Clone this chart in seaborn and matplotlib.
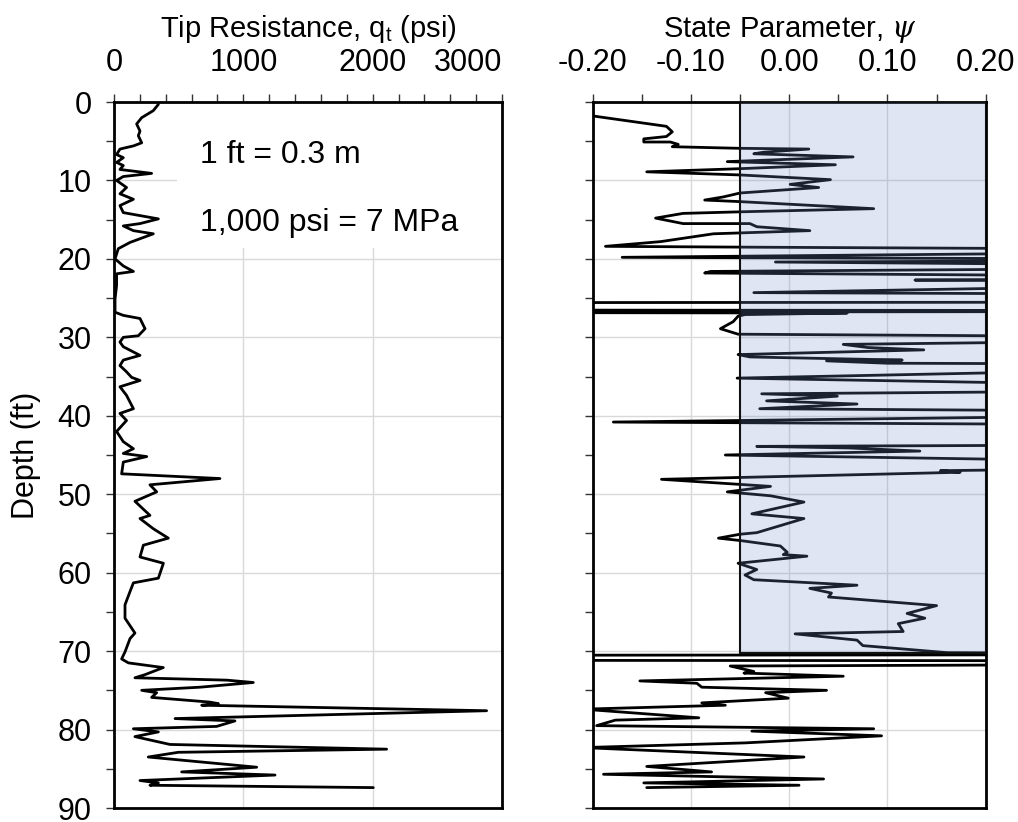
import numpy as np
import pandas as pd
import seaborn as sns
import matplotlib
matplotlib.use("Agg")
import matplotlib.pyplot as plt
from matplotlib.patches import Rectangle
from matplotlib.ticker import MultipleLocator, FixedLocator, FixedFormatter

# ---------------- data ----------------
qt_depth = [0.3, 1.1, 2.0, 2.8, 3.7, 4.3, 5.2, 5.6, 5.8, 6.0, 6.7, 7.1, 7.7, 8.1, 8.6, 9.1, 9.5,
            10.0, 10.9, 11.7, 12.4, 13.2, 14.1, 14.9, 15.5, 15.8, 16.4, 16.8, 17.9, 18.7, 20.0,
            20.9, 21.6, 21.9, 23.4, 25.1, 26.8, 27.2, 27.6, 28.9, 29.8, 30.0, 30.6, 31.2, 32.3,
            32.9, 33.6, 34.4, 35.1, 35.5, 36.3, 37.4, 39.1, 39.7, 40.6, 42.0, 43.3, 44.2, 44.8,
            45.2, 45.9, 47.4, 48.0, 48.8, 49.7, 50.9, 52.7, 53.1, 54.4, 55.6, 56.5, 58.0, 58.8,
            60.7, 61.3, 62.4, 64.1, 65.8, 67.7, 68.4, 70.1, 71.0, 71.5, 72.1, 73.0, 73.4, 73.7,
            74.0, 74.6, 75.0, 75.3, 75.9, 76.5, 76.7, 76.9, 77.6, 78.6, 78.9, 79.6, 79.9, 80.3,
            80.9, 81.9, 82.5, 82.9, 83.5, 84.8, 85.4, 85.8, 86.5, 86.8, 87.1, 87.4]
qt_psi = [343, 304, 214, 175, 201, 188, 214, 150, 97, 46, 20, 72, 20, 72, 46, 291, 72,
          20, 97, 46, 150, 46, 72, 343, 201, 72, 150, 304, 124, 33, 8,
          72, 150, 20, 20, 8, 8, 72, 201, 240, 188, 72, 46, 72, 201,
          72, 46, 97, 136, 201, 46, 97, 150, 46, 97, 20, 72, 150, 72,
          253, 72, 59, 819, 278, 330, 162, 278, 201, 304, 420, 227, 201, 382,
          343, 150, 124, 85, 85, 162, 124, 85, 59, 111, 381, 240, 162, 871,
          1077, 665, 214, 330, 291, 742, 807, 678, 2881, 472, 935, 793, 150, 343,
          162, 433, 2108, 497, 265, 1103, 523, 1245, 201, 343, 278, 2005]

# state parameter (values beyond the +/-0.20 frame are estimated off-scale excursions)
psi_depth = [1.6, 3.0, 3.1, 3.8, 4.4, 4.7, 5.1, 5.1, 5.4, 5.7, 5.9, 6.0, 6.4, 6.6, 7.0, 7.6,
             8.0, 8.5, 8.9, 9.3, 9.9, 10.5, 10.9, 11.6, 12.1, 12.5, 12.7, 13.6, 14.0, 14.2,
             14.8, 15.5, 15.5, 15.9, 16.4, 16.7, 16.8, 17.8, 18.4, 18.5, 18.9, 19.8, 20.1,
             20.4, 21.0, 21.6, 21.8, 22.4, 22.7, 22.9, 24.3, 24.6, 25.5, 25.6, 26.5, 26.6,
             26.7, 26.8, 26.9, 27.1, 27.3, 28.0, 28.9, 29.6, 30.1, 30.9, 31.3, 31.6, 32.2,
             32.5, 32.9, 33.0, 33.3, 33.5, 35.2, 36.6, 37.2, 37.5, 38.1, 38.5, 39.1, 39.6,
             40.8, 41.3, 43.6, 43.9, 44.1, 44.5, 45.0, 46.3, 47.0, 47.2, 48.1, 49.0, 49.7,
             50.2, 51.0, 52.5, 53.1, 54.9, 55.1, 55.6, 55.9, 56.6, 57.4, 57.7, 57.9, 58.8,
             59.6, 60.3, 60.9, 61.6, 62.0, 62.6, 63.1, 64.2, 65.2, 65.8, 66.5, 67.5, 67.8,
             68.6, 69.3, 70.2, 70.45, 70.55, 71.15, 71.25, 71.6, 71.9, 72.6, 72.8, 73.2,
             73.8, 74.1, 74.6, 75.0, 75.3, 76.0, 76.6, 76.9, 77.4, 78.5, 78.8, 79.5, 79.9,
             80.2, 80.8, 81.7, 82.3, 83.5, 84.7, 85.4, 85.7, 86.3, 86.8, 87.1, 87.4]
psi_value = [-0.21, -0.131, -0.125, -0.119, -0.125, -0.148, -0.148, -0.121, -0.113, -0.119,
             -0.052, 0.020, -0.026, -0.036, 0.065, -0.063, 0.047, -0.050, -0.145, -0.050,
             0.042, 0.001, 0.030, -0.050, -0.067, -0.086, -0.050, 0.086, -0.050, -0.108,
             -0.136, -0.108, -0.040, -0.033, 0.021, -0.050, -0.077, -0.131, -0.187, -0.050,
             0.6, -0.170, 0.6, -0.014, 0.6, -0.080, -0.086, 0.6, 0.128, 0.6, -0.036, 0.6,
             0.6, -0.6, -0.6, 0.6, 0.6, -0.6, 0.059, -0.045, -0.052, -0.057, -0.070, -0.052,
             0.6, 0.055, 0.080, 0.137, -0.052, -0.040, 0.115, 0.038, 0.100, 0.6, -0.053, 0.6,
             -0.028, 0.049, -0.023, 0.069, -0.030, 0.6, -0.179, 0.6, 0.6, -0.033, 0.060,
             0.133, -0.065, 0.6, 0.154, 0.174, -0.130, -0.019, -0.063, -0.019, 0.015, -0.038,
             0.015, -0.033, -0.050, -0.072, -0.050, -0.009, -0.002, -0.006, 0.018, -0.052,
             -0.033, -0.045, -0.036, 0.069, 0.021, 0.043, 0.040, 0.150, 0.120, 0.138, 0.111,
             0.116, 0.006, 0.069, 0.075, 0.161, 0.6, -0.6, -0.6, 0.6, 0.6, -0.060, -0.036,
             -0.046, 0.055, -0.152, -0.094, -0.089, 0.038, -0.024, -0.001, -0.089, -0.065,
             -0.21, -0.092, -0.177, -0.196, 0.086, -0.038, 0.094, -0.045, -0.21, 0.015,
             -0.145, -0.079, -0.189, 0.035, -0.148, 0.010, -0.145]

qt_ticks = [0, 1000, 2000, 3000]
psi_ticks = [-0.20, -0.10, 0.00, 0.10, 0.20]
psi_tick_labels = ["-0.20", "-0.10", "0.00", "0.10", "0.20"]
depth_ticks = [0, 10, 20, 30, 40, 50, 60, 70, 80, 90]
zone_left, zone_right, zone_bottom = -0.05, 0.20, 70.3

# ---------------- style ----------------
sns.set_theme(style="white")
plt.rcParams["font.family"] = ["Liberation Sans", "DejaVu Sans"]
plt.rcParams["mathtext.fontset"] = "custom"
plt.rcParams["mathtext.rm"] = "Liberation Sans"
plt.rcParams["mathtext.it"] = "DejaVu Serif:italic"
plt.rcParams["axes.unicode_minus"] = False
plt.rcParams["text.color"] = "black"
plt.rcParams["axes.labelcolor"] = "black"

FS_TICK = 22
FS_TITLE = 21
fig = plt.figure(figsize=(10.18, 8.22), dpi=100)
axL = fig.add_axes([114 / 1018, 1 - 808 / 822, 388 / 1018, 706 / 822])
axR = fig.add_axes([592.7 / 1018, 1 - 808 / 822, 393 / 1018, 706 / 822])

grid_c = "#d9d9d9"

def style_axis(ax):
    for s in ax.spines.values():
        s.set_color("black")
        s.set_linewidth(2)
    ax.xaxis.tick_top()
    ax.xaxis.set_label_position("top")
    ax.set_ylim(90, 0)
    ax.yaxis.set_major_locator(FixedLocator(depth_ticks))
    ax.yaxis.set_minor_locator(MultipleLocator(5))
    ax.tick_params(axis="both", which="both", direction="out", length=6, width=1,
                   color="#333333", labelsize=FS_TICK, labelcolor="black")
    ax.tick_params(axis="x", which="both", top=True, bottom=False, pad=11)
    ax.tick_params(axis="y", which="both", left=True, right=False, pad=10)
    ax.grid(True, which="major", color=grid_c, linewidth=1)
    ax.set_axisbelow(True)

# Left panel: tip resistance
sns.lineplot(x=qt_psi, y=qt_depth, sort=False, estimator=None, color="black",
             linewidth=2.0, ax=axL, zorder=3)
axL.set_xlim(0, 3000)
style_axis(axL)
axL.xaxis.set_major_locator(FixedLocator(qt_ticks))
axL.xaxis.set_minor_locator(MultipleLocator(200))
axL.set_xlabel("Tip Resistance, q$_\\mathrm{t}$ (psi)", fontsize=FS_TITLE, labelpad=8)
axL.set_ylabel("Depth (ft)", fontsize=22, labelpad=12)
fig.canvas.draw()
lbls = axL.get_xticklabels()
lbls[-1].set_horizontalalignment("right")
axL.add_patch(Rectangle((0.162, 0.793), 0.84, 0.21, transform=axL.transAxes,
                        facecolor="white", edgecolor="none", zorder=2))
axL.text(0.222, 0.925, "1 ft = 0.3 m", transform=axL.transAxes, fontsize=23,
         va="center", ha="left", zorder=4)
axL.text(0.222, 0.828, "1,000 psi = 7 MPa", transform=axL.transAxes, fontsize=23,
         va="center", ha="left", zorder=4)

# Right panel: state parameter
sns.lineplot(x=psi_value, y=psi_depth, sort=False, estimator=None, color="black",
             linewidth=2.0, ax=axR, zorder=2)
axR.set_xlim(-0.2, 0.2)
style_axis(axR)
axR.xaxis.set_major_locator(FixedLocator(psi_ticks))
axR.xaxis.set_major_formatter(FixedFormatter(psi_tick_labels))
axR.xaxis.set_minor_locator(MultipleLocator(0.05))
axR.set_yticklabels([])
axR.set_ylabel("")
axR.set_xlabel("State Parameter, $\\mathit{\\psi}$", fontsize=FS_TITLE, labelpad=8)
axR.add_patch(Rectangle((zone_left, 0), zone_right - zone_left, zone_bottom,
                        facecolor=(0.467, 0.569, 0.80, 0.235), edgecolor="#111111",
                        linewidth=1.5, zorder=3))

fig.savefig("out.png", dpi=100)
